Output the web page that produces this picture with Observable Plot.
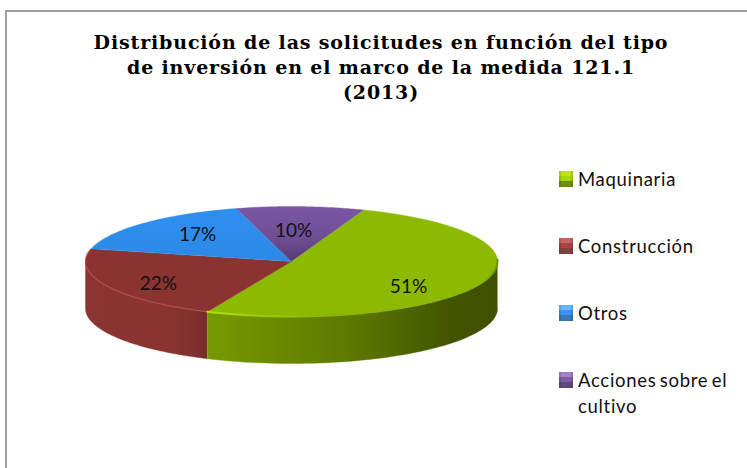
<!DOCTYPE html>
<html><head><meta charset="utf-8">
<script src="https://cdn.jsdelivr.net/npm/d3@7"></script>
<script src="https://cdn.jsdelivr.net/npm/@observablehq/plot@0.6"></script>
<style>
html,body{margin:0;padding:0;background:#fff;width:747px;height:468px;overflow:hidden}
#frame{position:absolute;left:5px;top:10px;width:760px;height:480px;border:2px solid #a0a0a0;box-sizing:border-box}
#title{position:absolute;left:61px;top:30px;width:640px;text-align:center;font:bold 19px/25px "DejaVu Serif",serif;letter-spacing:.85px;color:#000;z-index:2}
#legend{position:absolute;left:559px;top:166px;width:180px;font:18.5px/26px Lato,sans-serif;color:#111;z-index:2;letter-spacing:.7px;word-spacing:-2px}
#legend .item{position:relative;padding-left:19px;margin-bottom:41px}
#legend .sw{position:absolute;left:0;top:5px;width:14px;height:16px;box-shadow:inset 2px 0 1px rgba(0,0,0,.12),inset -2px 0 1px rgba(0,0,0,.12)}
#chart{position:absolute;left:0;top:0}
</style></head><body>
<div id="frame"></div>
<div id="title">Distribución de las solicitudes en función del tipo<br>de inversión en el marco de la medida 121.1<br>(2013)</div>
<div id="legend"></div>
<div id="chart"></div>
<script>
const categories = ["Maquinaria", "Construcción", "Otros", "Acciones sobre el cultivo"];
const shares = [51, 22, 17, 10];
const topColors = ["#8cba00", "#8b3331", "url(#top-otros)", "url(#top-acciones)"];
const swatchColors = [
  "linear-gradient(#bce414 0 30%,#a8d400 30% 60%,#6f8f10 60%)",
  "linear-gradient(#c86462 0 30%,#a84442 30% 60%,#86403e 60%)",
  "linear-gradient(#62b8fa 0 30%,#3c96ec 30% 60%,#3878b8 60%)",
  "linear-gradient(#a084c6 0 30%,#7d5ea6 30% 60%,#5f4a78 60%)"
];
// label anchors, in units of the ellipse radii from the pie centre
const labelAnchorX = [0.568, -0.646, -0.456, 0.01];
const labelAnchorY = [-0.47, -0.40, 0.49, 0.56];

// layout of the tilted pie
const W = 747, H = 468, cx = 291, cy = 261, rx = 206, ry = 55, depth = 47 / ry, startDeg = 20.5;

const rad = d => d * Math.PI / 180;
const onRim = (deg, drop = 0) => ({x: Math.sin(rad(deg)), y: Math.cos(rad(deg)) - drop});
const arc = (a0, a1, drop = 0) => d3.range(0, 61).map(i => onRim(a0 + (a1 - a0) * i / 60, drop));

let cum = startDeg;
const slices = shares.map((v, i) => {
  const a0 = cum, a1 = cum + v * 3.6;
  cum = a1;
  return {name: categories[i], value: v, a0, a1, fill: topColors[i]};
});
const topFace = s => [{x: 0, y: 0}, ...arc(s.a0, s.a1)];
const wall = (a0, a1) => [...arc(a0, a1), ...arc(a1, a0, depth)];

const [g, r] = slices;
const labels = slices.map((s, i) => ({text: s.value + "%", x: labelAnchorX[i], y: labelAnchorY[i]}));

const poly = (pts, fill) => Plot.line(pts, {x: "x", y: "y", fill, stroke: fill, strokeWidth: 0.4});

const svg = Plot.plot({
  width: W, height: H, margin: 0,
  style: {background: "transparent"},
  x: {domain: [-cx / rx, (W - cx) / rx], range: [0, W], axis: null},
  y: {domain: [cy / ry, (cy - H) / ry], range: [0, H], axis: null},
  marks: [
    poly(wall(r.a0, 270), "url(#side-construccion)"),
    poly(wall(90, g.a1), "url(#side-maquinaria)"),
    ...slices.map(s => poly(topFace(s), s.fill)),
    Plot.line(arc(r.a0, 283), {x: "x", y: "y", stroke: "#b9514f", strokeWidth: 1.3, strokeOpacity: 0.75}),
    Plot.line(arc(88, g.a1), {x: "x", y: "y", stroke: "url(#rim-maquinaria)", strokeWidth: 2}),
    Plot.text(labels, {x: "x", y: "y", text: "text", fontSize: 19, fontFamily: "Lato, sans-serif", fill: "#111"})
  ]
});
svg.insertAdjacentHTML("afterbegin", `<defs>
<linearGradient id="side-maquinaria" x1="1" x2="0" y1="0" y2="0">
<stop offset="0" stop-color="#3f5000"/><stop offset=".16" stop-color="#425400"/><stop offset=".5" stop-color="#5d7800"/><stop offset="1" stop-color="#779a00"/></linearGradient>
<linearGradient id="side-construccion" x1="0" x2="1" y1="0" y2="0">
<stop offset="0" stop-color="#8b3532"/><stop offset=".7" stop-color="#8a3431"/><stop offset="1" stop-color="#7a2d2b"/></linearGradient>
<linearGradient id="rim-maquinaria" x1="1" x2="0" y1="0" y2="0">
<stop offset="0" stop-color="#6f8f00"/><stop offset=".05" stop-color="#8cba00"/><stop offset=".6" stop-color="#8cb400"/><stop offset=".95" stop-color="#a9dc0c"/><stop offset="1" stop-color="#b0e010"/></linearGradient>
<linearGradient id="top-otros" x1="0" x2="0" y1="0" y2="1">
<stop offset="0" stop-color="#2e8ff0"/><stop offset="1" stop-color="#2c8ae6"/></linearGradient>
<linearGradient id="top-acciones" x1="0" x2="0" y1="0" y2="1">
<stop offset="0" stop-color="#7b56a4"/><stop offset=".55" stop-color="#704f97"/><stop offset="1" stop-color="#553c74"/></linearGradient>
</defs>`);
document.getElementById("chart").append(svg);

const legend = d3.select("#legend");
categories.forEach((c, i) => {
  const it = legend.append("div").attr("class", "item");
  it.append("span").attr("class", "sw").style("background", swatchColors[i]);
  it.append("span").text(c);
});
</script>
</body></html>
